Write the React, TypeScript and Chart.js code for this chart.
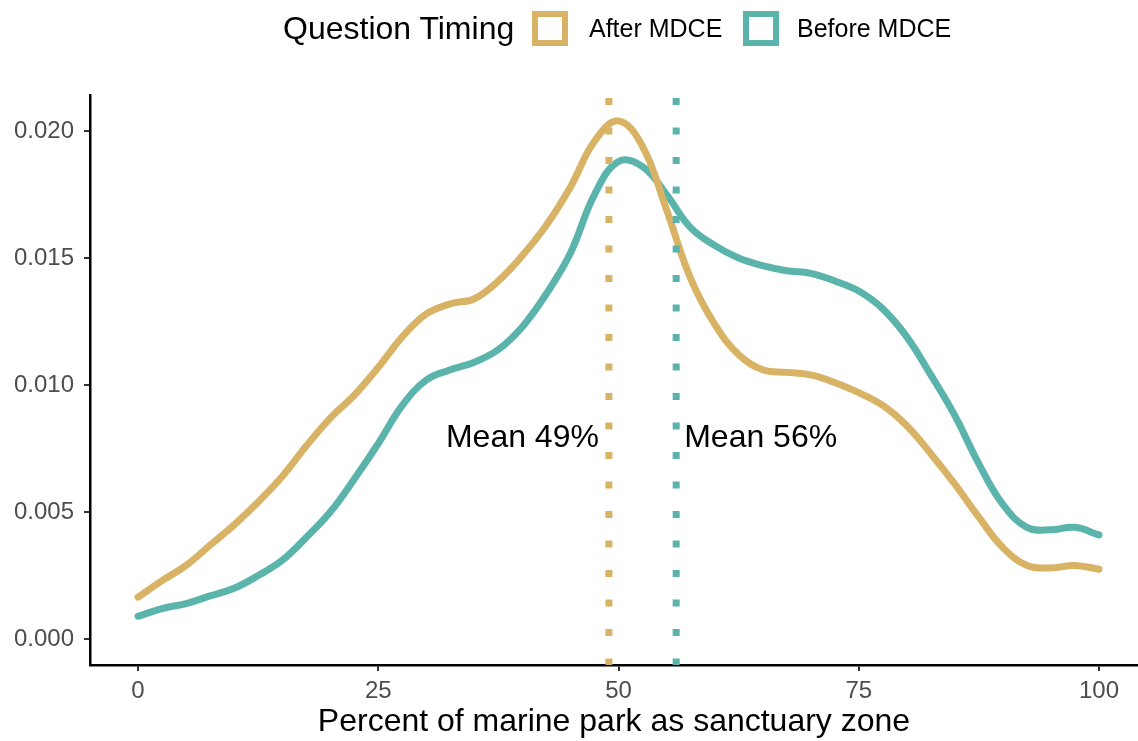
import React, { useEffect, useRef } from 'react';
import { Chart, registerables } from 'chart.js';

Chart.register(...registerables);

// ---- data ----
const xGrid = [0, 2.5, 5, 7.5, 10, 12.5, 15, 17.5, 20, 22.5, 25, 27.5, 30, 32.5, 35, 37.5, 40, 42.5, 45, 47.5, 50, 52.5, 55, 57.5, 60, 62.5, 65, 67.5, 70, 72.5, 75, 77.5, 80, 82.5, 85, 87.5, 90, 92.5, 95, 97.5, 100];
const afterValues = [0.00165, 0.0023, 0.0029, 0.0037, 0.0045, 0.0054, 0.0064, 0.0076, 0.0087, 0.0096, 0.0107, 0.0119, 0.0128, 0.0132, 0.0134, 0.0141, 0.0151, 0.0163, 0.0178, 0.0196, 0.0204, 0.0194, 0.0169, 0.0142, 0.0124, 0.0112, 0.0106, 0.0105, 0.0104, 0.0101, 0.0097, 0.0092, 0.0084, 0.0073, 0.0061, 0.0048, 0.0036, 0.0029, 0.0028, 0.0029, 0.00275];
const beforeValues = [0.0009, 0.0012, 0.0014, 0.0017, 0.002, 0.0025, 0.0031, 0.004, 0.005, 0.0063, 0.0077, 0.0092, 0.0102, 0.0106, 0.0109, 0.0114, 0.0123, 0.0136, 0.0152, 0.0175, 0.0188, 0.0186, 0.0175, 0.0162, 0.0155, 0.015, 0.0147, 0.0145, 0.0144, 0.0141, 0.0137, 0.013, 0.0119, 0.0104, 0.0088, 0.0069, 0.0053, 0.0044, 0.0043, 0.0044, 0.0041];
const seriesNames = ['After MDCE', 'Before MDCE'];
const seriesColors = ['#D8B365', '#5AB4AC'];
const meanValues = [49, 56];
const meanLabels = ['Mean 49%', 'Mean 56%'];
const meanLabelY = 0.0079;
const xTicks = [0, 25, 50, 75, 100];
const yTicks = [0, 0.005, 0.01, 0.015, 0.02];
const legendTitle = 'Question Timing';
const xTitle = 'Percent of marine park as sanctuary zone';

const FONT = '"Liberation Sans", Arial, Helvetica, sans-serif';

const meanPlugin = {
  id: 'meanLines',
  afterDatasetsDraw(chart: any) {
    const { ctx, chartArea, scales } = chart;
    const xs = scales.x;
    const ys = scales.y;
    meanValues.forEach((m, i) => {
      const px = xs.getPixelForValue(m);
      ctx.save();
      ctx.strokeStyle = seriesColors[i];
      ctx.lineWidth = 7;
      ctx.lineCap = 'butt';
      ctx.setLineDash([7, 22.5]);
      ctx.beginPath();
      ctx.moveTo(px, chartArea.top + 3);
      ctx.lineTo(px, chartArea.bottom);
      ctx.stroke();
      ctx.restore();

      ctx.save();
      ctx.font = `32px ${FONT}`;
      ctx.fillStyle = '#000';
      ctx.textBaseline = 'middle';
      const py = ys.getPixelForValue(meanLabelY);
      if (i === 0) {
        ctx.textAlign = 'right';
        ctx.fillText(meanLabels[i], px - 10, py);
      } else {
        ctx.textAlign = 'left';
        ctx.fillText(meanLabels[i], px + 8, py);
      }
      ctx.restore();
    });
  },
};

export default function App() {
  const ref = useRef<HTMLCanvasElement | null>(null);

  useEffect(() => {
    if (!ref.current) return;
    const seriesValues = [afterValues, beforeValues];
    const chart = new Chart(ref.current, {
      type: 'line',
      data: {
        datasets: seriesNames.map((name, i) => ({
          label: name,
          data: xGrid.map((x, j) => ({ x, y: seriesValues[i][j] })),
          borderColor: seriesColors[i],
          backgroundColor: seriesColors[i],
          borderWidth: 7,
          pointRadius: 0,
          fill: false,
          tension: 0.4,
          borderCapStyle: 'round',
          borderJoinStyle: 'round',
        })),
      },
      options: {
        animation: false,
        responsive: false,
        maintainAspectRatio: false,
        layout: { padding: { top: 95, right: 0, left: 0, bottom: 0 } },
        plugins: {
          legend: { display: false },
          tooltip: { enabled: false },
        },
        scales: {
          x: {
            type: 'linear',
            min: -5,
            max: 104.06,
            afterBuildTicks: (s: any) => {
              s.ticks = xTicks.map((v) => ({ value: v }));
            },
            afterFit: (s: any) => {
              s.height = 76;
            },
            border: { display: true, color: '#000', width: 2.5 },
            grid: { display: true, drawOnChartArea: false, drawTicks: true, tickLength: 6, color: '#333333', lineWidth: 2 },
            ticks: {
              color: '#4D4D4D',
              font: { family: FONT, size: 24 },
              padding: 6,
              maxRotation: 0,
              callback: (v: any) => String(v),
            },
            title: {
              display: true,
              text: xTitle,
              color: '#000',
              font: { family: FONT, size: 32 },
              padding: { top: 0, bottom: 0 },
            },
          },
          y: {
            type: 'linear',
            min: -0.00102,
            max: 0.02142,
            afterBuildTicks: (s: any) => {
              s.ticks = yTicks.map((v) => ({ value: v }));
            },
            afterFit: (s: any) => {
              s.width = 90;
            },
            border: { display: true, color: '#000', width: 2.5 },
            grid: { display: true, drawOnChartArea: false, drawTicks: true, tickLength: 6, color: '#333333', lineWidth: 2 },
            ticks: {
              color: '#4D4D4D',
              font: { family: FONT, size: 24 },
              padding: 10,
              callback: (v: any) => Number(v).toFixed(3),
            },
          },
        },
      },
      plugins: [meanPlugin],
    } as any);
    return () => chart.destroy();
  }, []);

  const legendText: React.CSSProperties = {
    position: 'absolute',
    fontFamily: FONT,
    color: '#000',
    lineHeight: 1,
    whiteSpace: 'nowrap',
  };

  return (
    <div style={{ position: 'absolute', left: 0, top: 0, width: 1138, height: 741, background: '#fff', overflow: 'hidden' }}>
      <canvas ref={ref} width={1138} height={741} style={{ position: 'absolute', left: 0, top: 0, width: 1138, height: 741 }} />
      <div style={{ ...legendText, left: 283, top: 12, fontSize: 32 }}>{legendTitle}</div>
      {seriesNames.map((name, i) => (
        <React.Fragment key={name}>
          <div
            style={{
              position: 'absolute',
              left: i === 0 ? 532 : 743,
              top: 11,
              width: 36,
              height: 35,
              boxSizing: 'border-box',
              border: `6px solid ${seriesColors[i]}`,
              background: '#fff',
            }}
          />
          <div style={{ ...legendText, left: i === 0 ? 589 : 797, top: 16, fontSize: 25 }}>{name}</div>
        </React.Fragment>
      ))}
    </div>
  );
}
